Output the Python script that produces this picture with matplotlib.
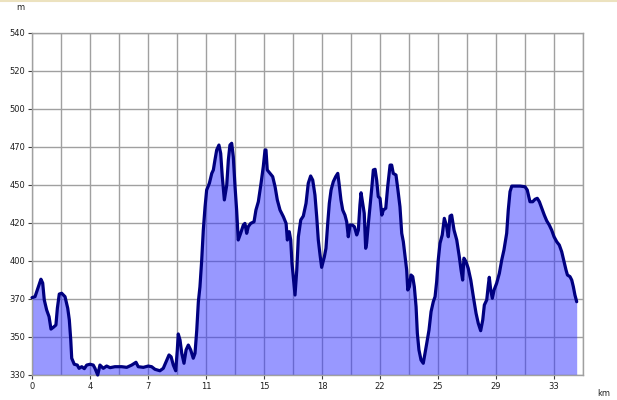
import numpy as np
import matplotlib
matplotlib.use('Agg')
import matplotlib.pyplot as plt
from matplotlib.lines import Line2D

# elevation profile
dist_km = [0.00, 0.19, 0.40, 0.56, 0.67, 0.77, 0.92, 1.07, 1.19, 1.34, 1.50, 1.59, 1.71, 1.86,
           2.07, 2.24, 2.34, 2.43, 2.49, 2.65, 2.84, 2.95, 3.12, 3.28, 3.43, 3.64, 3.84, 3.95,
           4.12, 4.26, 4.47, 4.68, 4.89, 5.20, 5.62, 5.94, 6.25, 6.52, 6.66, 6.98, 7.29, 7.50,
           7.71, 8.02, 8.23, 8.45, 8.59, 8.72, 8.86, 9.01, 9.11, 9.17, 9.28, 9.39, 9.53, 9.66,
           9.80, 9.95, 10.11, 10.22, 10.33, 10.43, 10.53, 10.64, 10.74, 10.85, 10.95, 11.12,
           11.27, 11.37, 11.47, 11.58, 11.72, 11.83, 11.93, 12.06, 12.21, 12.31, 12.41, 12.52,
           12.62, 12.73, 12.83, 12.93, 13.08, 13.25, 13.35, 13.46, 13.56, 13.71, 13.92, 14.04,
           14.19, 14.36, 14.50, 14.61, 14.67, 14.75, 14.92, 15.09, 15.24, 15.38, 15.55, 15.76,
           15.93, 16.01, 16.13, 16.22, 16.30, 16.38, 16.49, 16.60, 16.70, 16.85, 17.01, 17.18,
           17.32, 17.47, 17.60, 17.74, 17.85, 17.95, 18.06, 18.16, 18.33, 18.43, 18.54, 18.64,
           18.75, 18.89, 19.04, 19.17, 19.25, 19.37, 19.48, 19.62, 19.73, 19.83, 19.94, 20.08,
           20.21, 20.36, 20.46, 20.56, 20.63, 20.73, 20.83, 20.92, 20.98, 21.09, 21.19, 21.30,
           21.40, 21.51, 21.61, 21.71, 21.82, 21.93, 22.03, 22.18, 22.30, 22.45, 22.55, 22.65,
           22.82, 22.93, 23.07, 23.18, 23.28, 23.39, 23.49, 23.56, 23.66, 23.76, 23.87, 23.97,
           24.08, 24.16, 24.26, 24.39, 24.53, 24.64, 24.75, 24.89, 25.02, 25.16, 25.27, 25.37,
           25.47, 25.58, 25.72, 25.85, 26.00, 26.10, 26.21, 26.31, 26.46, 26.63, 26.79, 26.90,
           27.00, 27.08, 27.21, 27.35, 27.51, 27.67, 27.84, 27.98, 28.13, 28.26, 28.36, 28.51,
           28.61, 28.67, 28.76, 28.86, 28.97, 29.13, 29.30, 29.45, 29.59, 29.76, 29.86, 29.97,
           30.08, 30.28, 30.60, 30.91, 31.05, 31.22, 31.39, 31.54, 31.68, 31.81, 31.96, 32.12,
           32.27, 32.43, 32.58, 32.73, 32.90, 33.06, 33.21, 33.36, 33.48, 33.57, 33.73, 33.84,
           33.94, 34.04, 34.15]
elev_m = [377.5, 378.1, 384.2, 388.8, 386.5, 376.1, 369.9, 365.8, 358.2, 359.3, 360.7, 371.0, 379.7, 380.2,
          378.1, 371.0, 363.8, 351.5, 340.3, 336.6, 336.1, 334.1, 335.1, 333.9, 336.1, 336.6, 336.1, 334.1,
          330.0, 336.1, 334.1, 335.5, 334.5, 335.1, 335.1, 334.7, 336.1, 337.8, 335.1, 334.7, 335.5, 335.1,
          333.5, 332.6, 334.1, 339.2, 342.3, 341.2, 336.1, 332.6, 345.4, 355.2, 351.5, 343.3, 337.2, 345.4,
          348.4, 345.4, 340.3, 343.3, 357.6, 375.0, 384.2, 400.6, 419.0, 433.3, 443.6, 447.7,
          453.8, 455.9, 462.0, 468.2, 471.2, 466.1, 451.8, 437.5, 446.7, 462.0, 471.2, 472.3,
          464.0, 445.6, 431.3, 412.9, 417.0, 422.1, 423.1, 417.0, 421.1, 423.1, 424.1, 431.3,
          436.4, 447.7, 457.9, 468.2, 468.2, 455.9, 453.8, 451.8, 445.6, 437.5, 431.3, 427.2,
          423.1, 412.9, 418.0, 412.9, 398.6, 390.4, 379.1, 394.5, 414.9, 425.2, 427.6, 435.4,
          447.7, 452.2, 449.7, 440.5, 427.2, 412.9, 403.7, 396.1, 402.6, 407.8, 423.1, 435.4,
          443.6, 448.7, 451.8, 453.8, 447.7, 437.5, 431.3, 428.2, 424.1, 414.9, 422.1, 422.1,
          421.1, 416.0, 419.0, 434.4, 441.9, 435.4, 429.3, 407.8, 410.9, 423.1, 433.3, 444.6,
          455.9, 456.3, 449.7, 439.5, 438.5, 428.2, 431.3, 432.4, 445.6, 458.9, 458.9, 453.8,
          452.8, 444.6, 433.3, 417.0, 411.9, 402.6, 394.5, 382.2, 384.2, 391.4, 390.4, 384.2,
          371.9, 355.6, 345.4, 339.2, 337.2, 343.3, 349.5, 357.6, 368.9, 375.0, 378.1, 387.3,
          400.6, 410.9, 416.0, 426.2, 421.1, 414.9, 427.6, 428.2, 419.0, 412.9, 402.6, 394.5,
          388.3, 401.7, 399.6, 395.5, 388.3, 378.1, 367.9, 361.7, 357.2, 363.8, 373.0, 376.1,
          385.3, 390.0, 382.2, 377.1, 382.2, 386.3, 392.4, 400.6, 406.8, 417.0, 431.3, 442.6,
          446.0, 446.0, 446.0, 445.6, 443.6, 436.4, 436.4, 437.9, 438.5, 436.4, 432.4, 428.2,
          424.7, 422.1, 419.0, 414.9, 411.8, 409.8, 405.7, 399.6, 394.5, 391.4, 390.4, 388.3,
          384.2, 379.1, 375.0]

# axis labels as printed on the chart (tick spacing is not round)
x_labels = ['0', '4', '7', '11', '15', '18', '22', '25', '29', '33']
y_labels = ['330', '350', '370', '400', '420', '450', '470', '500', '520', '540']
km_step = 40 / 11
y_min, y_max = 330, 540

fig = plt.figure(figsize=(6.17, 4), dpi=100)
ax = fig.add_axes([32 / 617, 25 / 400, 551 / 617, 342 / 400])

x_ticks = [i * km_step for i in range(len(x_labels))]
y_ticks = np.linspace(y_min, y_max, len(y_labels))

ax.set_xlim(0, 9.5 * km_step)
ax.set_ylim(y_min, y_max)
ax.set_xticks(x_ticks)
ax.set_xticklabels(x_labels)
ax.set_xticks([(i + 0.5) * km_step for i in range(len(x_labels))], minor=True)
ax.set_yticks(y_ticks)
ax.set_yticklabels(y_labels)

ax.grid(True, which='both', color='#a0a0a0', lw=1, zorder=0)
ax.set_axisbelow(True)
ax.tick_params(axis='both', which='major', length=3, width=0.8, color='#404040',
               labelsize=6, labelcolor='#202020', pad=2)
ax.tick_params(axis='x', which='minor', length=0)
for s in ax.spines.values():
    s.set_color('#a0a0a0')
    s.set_linewidth(1)

ax.fill_between(dist_km, elev_m, y_min, color=(0.2, 0.2, 1.0), alpha=0.5, lw=0, zorder=2)
ax.plot(dist_km, elev_m, color='#000080', lw=2.3, solid_joinstyle='round',
        solid_capstyle='round', zorder=3, clip_on=False)

fig.text(20 / 617, 1 - 8 / 400, 'm', fontsize=6, color='#202020', ha='center', va='center')
fig.text(604 / 617, 1 - 394 / 400, 'km', fontsize=6, color='#202020', ha='center', va='center')
fig.add_artist(Line2D([0, 1], [0.997, 0.997], transform=fig.transFigure,
                      color='#ece2bf', lw=1.5))

fig.savefig('out.png', dpi=100)
